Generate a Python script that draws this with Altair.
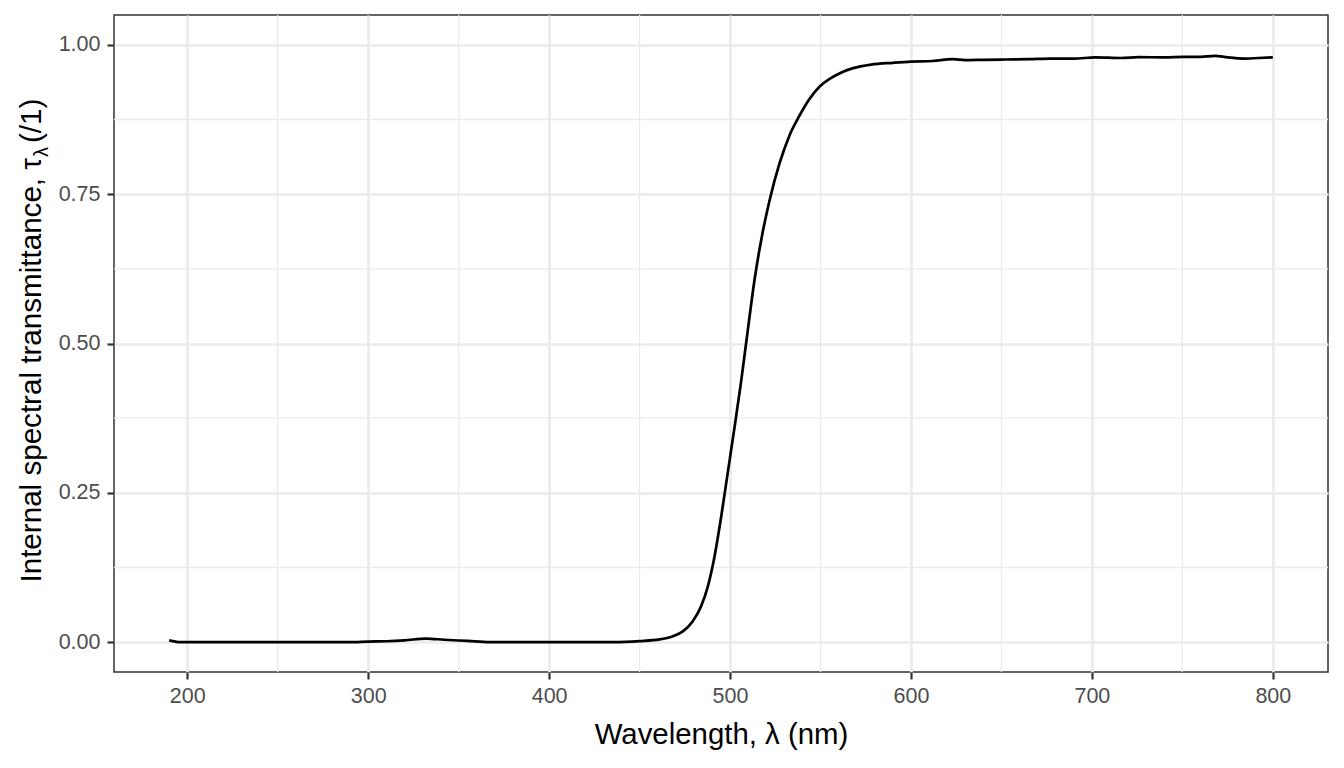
import pandas as pd
import altair as alt

# internal spectral transmittance of a long-pass filter
wavelength = [190, 196, 210, 250, 290, 300, 310, 320, 332, 342, 355, 367, 400, 436,
              450, 461, 468.4, 473.9, 479.4, 484, 487.7, 491.4, 495.1, 498.7, 502.4,
              506.1, 509.8, 513.5, 517.2, 521.8, 527.3, 532.8, 538.3, 543.8, 549.4,
              555, 561, 568, 578, 590, 600, 612, 623, 630, 640, 652, 665, 677, 690,
              702, 716, 726, 740, 751, 760, 768, 775, 785, 792, 800]
transmittance = [0.003, 0.0, 0.0, 0.0, 0.0, 0.001, 0.0015, 0.003, 0.006, 0.004, 0.002, 0.0,
                 0.0, 0.0, 0.0017, 0.0045, 0.010, 0.018, 0.035, 0.060, 0.093, 0.143,
                 0.210, 0.283, 0.358, 0.436, 0.522, 0.606, 0.673, 0.739, 0.801, 0.848,
                 0.881, 0.909, 0.930, 0.943, 0.953, 0.961, 0.967, 0.970, 0.972, 0.973,
                 0.976, 0.9745, 0.975, 0.9755, 0.976, 0.977, 0.977, 0.979, 0.978, 0.9795,
                 0.979, 0.980, 0.980, 0.9816, 0.979, 0.977, 0.978, 0.979]

x_ticks = [200, 300, 400, 500, 600, 700, 800]
y_ticks = [0.0, 0.25, 0.5, 0.75, 1.0]
x_minor = [250, 350, 450, 550, 650, 750]
y_minor = [0.125, 0.375, 0.625, 0.875]

# y title in three pieces so lambda can sit as a subscript
y_title_main = ['Internal spectral transmittance, τ']
y_title_sub = ['λ']
y_title_end = ['(/1)']

data = pd.DataFrame({'wl': wavelength, 'tau': transmittance})

font = 'Liberation Sans'
W, H = 1214, 657
x_scale = alt.Scale(domain=[159.5, 830.5], nice=False, zero=False)
y_scale = alt.Scale(domain=[-0.05, 1.05], nice=False, zero=False)

# minor grid lines
vminor = alt.Chart(pd.DataFrame({'wl': x_minor})).mark_rule(
    color='#EBEBEB', strokeWidth=1.3
).encode(x=alt.X('wl:Q', scale=x_scale))

hminor = alt.Chart(pd.DataFrame({'tau': y_minor})).mark_rule(
    color='#EBEBEB', strokeWidth=1.3
).encode(y=alt.Y('tau:Q', scale=y_scale))

# the spectrum
line = alt.Chart(data).mark_line(
    color='black', strokeWidth=2.7, interpolate='monotone'
).encode(
    x=alt.X('wl:Q', scale=x_scale,
            axis=alt.Axis(values=x_ticks, title='Wavelength, λ (nm)',
                          titleX=W / 2, titleY=71, titleBaseline='alphabetic',
                          titleAlign='center', titleFontSize=29.4,
                          labelBaseline='alphabetic', labelPadding=23)),
    y=alt.Y('tau:Q', scale=y_scale,
            axis=alt.Axis(values=y_ticks, format='.2f', title='', labelPadding=7))
)

# rotated y axis title
t_main = alt.Chart(pd.DataFrame({'t': y_title_main})).mark_text(
    angle=270, align='right', baseline='alphabetic', font=font, fontSize=29.6, color='black'
).encode(x=alt.value(-73), y=alt.value(143), text='t:N')

t_sub = alt.Chart(pd.DataFrame({'t': y_title_sub})).mark_text(
    angle=270, align='left', baseline='alphabetic', font=font, fontSize=20, color='black'
).encode(x=alt.value(-66), y=alt.value(142), text='t:N')

t_end = alt.Chart(pd.DataFrame({'t': y_title_end})).mark_text(
    angle=270, align='left', baseline='alphabetic', font=font, fontSize=29.6, color='black'
).encode(x=alt.value(-73), y=alt.value(128), text='t:N')

chart = alt.layer(vminor, hminor, line, t_main, t_sub, t_end).properties(
    width=W, height=H, autosize='none',
    padding={'left': 106, 'top': 7, 'right': 6, 'bottom': 86}
).configure_view(
    stroke='#333333', strokeWidth=1.5
).configure_axis(
    grid=True, gridColor='#EBEBEB', gridWidth=2.7,
    domain=False, ticks=True, tickSize=7, tickWidth=2.2, tickColor='#333333',
    labelFont=font, labelFontSize=21.5, labelColor='#4D4D4D',
    titleFont=font, titleColor='black', titleFontWeight='normal'
)

chart.save('out.html', embed_options={'renderer': 'svg', 'actions': False})
